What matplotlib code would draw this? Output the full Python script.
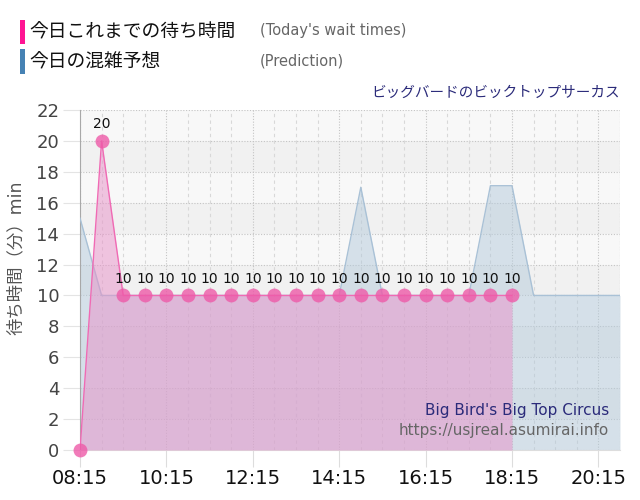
import matplotlib
matplotlib.use("Agg")
import matplotlib.pyplot as plt
from matplotlib.patches import Rectangle
import numpy as np

plt.rcParams['font.family'] = ['DejaVu Sans', 'Noto Sans CJK JP']

# today's observed wait times (min), every 30 min
wait_times = ["08:15", "08:45", "09:15", "09:45", "10:15", "10:45", "11:15",
              "11:45", "12:15", "12:45", "13:15", "13:45", "14:15", "14:45",
              "15:15", "15:45", "16:15", "16:45", "17:15", "17:45", "18:15"]
wait_vals = [0, 20, 10, 10, 10, 10, 10, 10, 10, 10, 10, 10, 10, 10,
             10, 10, 10, 10, 10, 10, 10]

# prediction
pred_times = ["08:15", "08:45", "09:15", "09:45", "10:15", "10:45", "11:15",
              "11:45", "12:15", "12:45", "13:15", "13:45", "14:15", "14:45",
              "15:15", "15:45", "16:15", "16:45", "17:15", "17:45", "18:15",
              "18:45", "19:15", "19:45", "20:15", "20:45"]
pred_vals = [15, 10, 10, 10, 10, 10, 10, 10, 10, 10, 10, 10, 10, 17,
             10, 10, 10, 10, 10, 17.1, 17.1, 10, 10, 10, 10, 10]

major_ticks = ["08:15", "10:15", "12:15", "14:15", "16:15", "18:15", "20:15"]


def to_min(s):
    h, m = s.split(":")
    return int(h) * 60 + int(m)


wx = np.array([to_min(t) for t in wait_times])
px = np.array([to_min(t) for t in pred_times])

fig = plt.figure(figsize=(6.4, 5.0), dpi=100)
ax = fig.add_axes([80 / 640, 50 / 500, 540 / 640, 340 / 500])
ax.set_facecolor('#f8f8f8')

x0, x1 = to_min("08:15"), to_min("20:45")
ax.set_xlim(x0, x1)
ax.set_ylim(0, 22)

# alternating bands
for b in range(2, 22, 4):
    ax.axhspan(b, b + 2, color='#f1f1f1', zorder=0, lw=0)

# grid
for y in range(0, 23, 2):
    ax.axhline(y, color='#c4c4c4', lw=0.8, ls=(0, (1, 1.5)), zorder=1)
for m in range(x0, x1 + 1, 30):
    if (m - x0) % 120 == 0:
        ax.axvline(m, color='#c4c4c4', lw=0.8, ls=(0, (1, 1.5)), zorder=1)
    else:
        ax.axvline(m, color='#d8d8d8', lw=0.8, ls=(0, (3, 3)), zorder=1)
ax.axvline(x1, color='#c4c4c4', lw=0.8, ls=(0, (1, 1.5)), zorder=1)

# prediction area
ax.fill_between(px, pred_vals, 0, color='#b4cadb', alpha=0.5, lw=0, zorder=2)
ax.plot(px, pred_vals, color='#a9c1d6', lw=1, zorder=3)

# today's wait area
ax.fill_between(wx, wait_vals, 0, color='#e890c8', alpha=0.5, lw=0, zorder=4)
ax.plot(wx, wait_vals, color='#f06ab4', lw=1, zorder=5)
ax.plot(wx, wait_vals, 'o', ms=10, color='#ee5aa8', alpha=0.8, mec='none',
        zorder=6, clip_on=False)

for x, v in zip(wx, wait_vals):
    if v > 0:
        ax.annotate(str(v), (x, v), xytext=(0, 7), textcoords='offset points',
                    ha='center', va='bottom', fontsize=10, color='#111111',
                    zorder=7)

# axes styling
for s in ['top', 'right']:
    ax.spines[s].set_visible(False)
ax.spines['left'].set_color('#a8a8a8')
ax.spines['bottom'].set_color('#dddddd')

ax.set_yticks(range(0, 23, 2))
ax.tick_params(axis='y', length=12, color='#e4e4e4', labelsize=13,
               labelcolor='#444444', pad=3)
ax.set_xticks([to_min(t) for t in major_ticks])
ax.set_xticklabels(major_ticks)
ax.tick_params(axis='x', length=12, color='#dddddd', labelsize=14,
               labelcolor='#111111', pad=2)

# y axis title placed like the original (sits a bit above centre)
fig.text(16 / 640, 1 - 258 / 500, '待ち時間（分）min', rotation=90,
         fontsize=12.5, color='#555555', ha='center', va='center')

ax.text(0.98, 0.115, "Big Bird's Big Top Circus", transform=ax.transAxes,
        ha='right', va='center', fontsize=11, color='#2b2b7a', zorder=8)
ax.text(0.98, 0.056, "https://usjreal.asumirai.info", transform=ax.transAxes,
        ha='right', va='center', fontsize=11, color='#666666', zorder=8)

# legend header
fig.add_artist(Rectangle((20 / 640, 1 - 44 / 500), 5 / 640, 24 / 500,
                         transform=fig.transFigure, color='#ff1493', lw=0))
fig.add_artist(Rectangle((20 / 640, 1 - 74 / 500), 5 / 640, 25 / 500,
                         transform=fig.transFigure, color='#4682b4', lw=0))
fig.text(29 / 640, 1 - 32 / 500, '今日これまでの待ち時間', fontsize=13.5,
         color='#111111', va='center', ha='left')
fig.text(29 / 640, 1 - 62 / 500, '今日の混雑予想', fontsize=13.5,
         color='#111111', va='center', ha='left')
fig.text(260 / 640, 1 - 31 / 500, "(Today's wait times)", fontsize=10.5,
         color='#666666', va='center', ha='left')
fig.text(260 / 640, 1 - 61 / 500, "(Prediction)", fontsize=10.5,
         color='#666666', va='center', ha='left')
fig.text(620 / 640, 1 - 92 / 500, 'ビッグバードのビックトップサーカス',
         fontsize=10.5, color='#2b2b7a', va='center', ha='right')

fig.savefig('out.png', dpi=100)
